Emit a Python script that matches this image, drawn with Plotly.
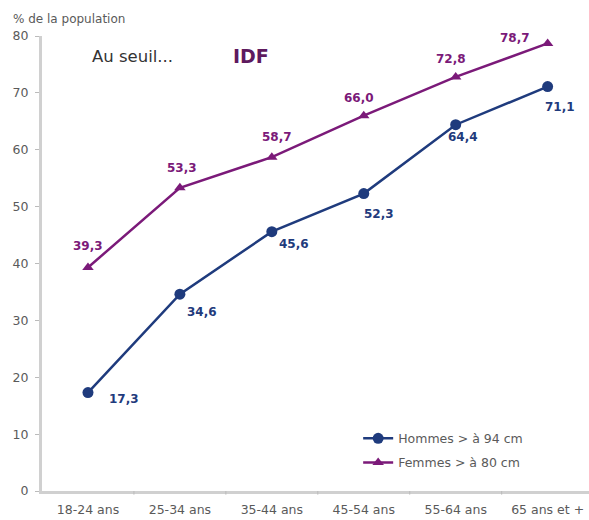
import plotly.graph_objects as go

# Age groups and share of the population above the waist-size threshold (%)
categories = ["18-24 ans", "25-34 ans", "35-44 ans", "45-54 ans", "55-64 ans", "65 ans et +"]
hommes = [17.3, 34.6, 45.6, 52.3, 64.4, 71.1]
femmes = [39.3, 53.3, 58.7, 66.0, 72.8, 78.7]
y_ticks = [0, 10, 20, 30, 40, 50, 60, 70, 80]

# label offsets (px) for each point
hommes_shift = [(36, -6), (22, -18), (22, -12), (15, -20), (7, -12), (12, -20)]
femmes_shift = [(0, 21), (2, 20), (5, 20), (-5, 18), (-5, 18), (-33, 5)]

BLUE = "#1f3b7d"
PURPLE = "#7b1a79"
FONT = "DejaVu Sans, Verdana, sans-serif"
GREY = "#5a5a5a"

fr = lambda v: f"{v:.1f}".replace(".", ",")

fig = go.Figure()
fig.add_trace(go.Scatter(
    x=categories, y=hommes, name="Hommes > à 94 cm", mode="lines+markers",
    line=dict(color=BLUE, width=2.5),
    marker=dict(symbol="circle", size=11, color=BLUE),
    legendgroup="h",
))
fig.add_trace(go.Scatter(
    x=categories, y=femmes, name="Femmes > à 80 cm", mode="lines+markers",
    line=dict(color=PURPLE, width=2.5),
    marker=dict(symbol="triangle-up", size=10, color=PURPLE),
    legendgroup="f",
))

annotations = []
for c, v, (dx, dy) in zip(categories, hommes, hommes_shift):
    annotations.append(dict(x=c, y=v, text=f"<b>{fr(v)}</b>", showarrow=False,
                            xshift=dx, yshift=dy,
                            font=dict(family=FONT, size=12, color=BLUE)))
for c, v, (dx, dy) in zip(categories, femmes, femmes_shift):
    annotations.append(dict(x=c, y=v, text=f"<b>{fr(v)}</b>", showarrow=False,
                            xshift=dx, yshift=dy,
                            font=dict(family=FONT, size=12, color=PURPLE)))

annotations += [
    dict(xref="paper", yref="paper", x=-0.056, y=1.0, yshift=8, xanchor="left", yanchor="bottom",
         text="% de la population", showarrow=False,
         font=dict(family=FONT, size=12, color=GREY)),
    dict(xref="paper", yref="paper", x=0.088, y=0.955, xanchor="left", yanchor="middle",
         text="Au seuil...", showarrow=False,
         font=dict(family=FONT, size=16.5, color="#333333")),
    dict(xref="paper", yref="paper", x=0.345, y=0.955, xanchor="left", yanchor="middle",
         text="<b>IDF</b>", showarrow=False,
         font=dict(family=FONT, size=19, color="#5e1a5e")),
]

fig.update_layout(
    width=589, height=520,
    margin=dict(l=42, r=0, t=36, b=28.5),
    paper_bgcolor="white", plot_bgcolor="white",
    showlegend=True,
    legend=dict(x=0.578, y=0.148, xanchor="left", yanchor="top",
                bgcolor="rgba(0,0,0,0)", tracegroupgap=5,
                font=dict(family=FONT, size=12.5, color=GREY)),
    annotations=annotations,
    xaxis=dict(
        type="category", range=[-0.5, 5.45],
        showline=True, linecolor="#d0d0d0", linewidth=3,
        showgrid=False, zeroline=False,
        ticks="", ticklabelstandoff=5,
        tickfont=dict(family=FONT, size=12.5, color=GREY),
    ),
    yaxis=dict(
        range=[0, 80], tickvals=y_ticks,
        showline=True, linecolor="#d0d0d0", linewidth=3,
        showgrid=False, zeroline=False,
        ticks="outside", ticklen=4, tickcolor="#bbbbbb", ticklabelstandoff=4,
        tickfont=dict(family=FONT, size=12.5, color=GREY),
    ),
)

# category boundary ticks along the x axis
for i in range(1, 6):
    fig.add_shape(type="line", xref="x", yref="paper", x0=i - 0.5, x1=i - 0.5, y0=0, y1=-0.008,
                  line=dict(color="#bbbbbb", width=1))

fig.write_html("out.html")
